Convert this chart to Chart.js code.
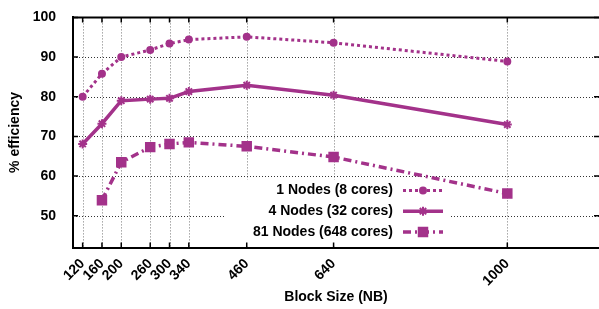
<!DOCTYPE html>
<html>
<head>
<meta charset="utf-8">
<script src="https://cdn.jsdelivr.net/npm/chart.js@4"></script>
<style>
  html, body { margin: 0; padding: 0; background: #fff; }
</style>
</head>
<body>
<canvas id="effChart" width="599" height="309"></canvas>
<script>
// ---------------- DATA ----------------
const blockSizes = [120, 160, 200, 260, 300, 340, 460, 640, 1000];
const oneNode = [80.0, 85.8, 90.0, 91.8, 93.4, 94.4, 95.1, 93.6, 88.9];
const fourNodes = [68.1, 73.2, 79.0, 79.4, 79.6, 81.3, 82.9, 80.4, 73.0];
const eightyOneNodes = [null, 53.9, 63.5, 67.3, 68.1, 68.5, 67.5, 64.8, 55.6];
const yTicks = [50, 60, 70, 80, 90, 100];
const seriesNames = ['1 Nodes (8 cores)', '4 Nodes (32 cores)', '81 Nodes (648 cores)'];

const purple = '#a3328a';
const font = 'Liberation Sans, Arial, Helvetica, sans-serif';

// pair each block size with its value, leaving out the missing ones
function toPoints(values) {
    return blockSizes
        .map((b, i) => ({ x: b, y: values[i] }))
        .filter(p => p.y !== null);
}

// styles for the three lines, also reused by the key
const styles = [
    { dash: [3, 3], width: 3, pointStyle: 'circle', radius: 3 },
    { dash: [], width: 3.5, pointStyle: 'star', radius: 4.5 },
    { dash: [8, 4, 2, 4], width: 3.5, pointStyle: 'rect', radius: 6 }
];

// gnuplot style: dotted grid, inward ticks, top border and the key box
const framePlugin = {
    id: 'frame',
    beforeDatasetsDraw(chart) {
        const { ctx, chartArea: a, scales } = chart;
        ctx.save();
        ctx.lineWidth = 1;
        ctx.setLineDash([1, 2]);
        ctx.strokeStyle = '#777';
        ctx.beginPath();
        blockSizes.forEach(b => {
            const x = Math.round(scales.x.getPixelForValue(b)) + 0.5;
            ctx.moveTo(x, a.top);
            ctx.lineTo(x, a.bottom);
        });
        ctx.stroke();
        ctx.strokeStyle = '#333';
        ctx.beginPath();
        yTicks.forEach(v => {
            const y = Math.round(scales.y.getPixelForValue(v)) + 0.5;
            ctx.moveTo(a.left, y);
            ctx.lineTo(a.right, y);
        });
        ctx.stroke();
        ctx.setLineDash([]);
        // white box behind the key hides the grid
        ctx.fillStyle = '#fff';
        ctx.fillRect(a.right - 374, a.bottom - 68, 226, 67);
        ctx.restore();
    },
    afterDatasetsDraw(chart) {
        const { ctx, chartArea: a, scales } = chart;
        ctx.save();
        ctx.strokeStyle = '#000';
        ctx.lineWidth = 2;
        // top border
        ctx.beginPath();
        ctx.moveTo(a.left - 1, a.top);
        ctx.lineTo(a.right, a.top);
        ctx.stroke();
        // inward ticks
        ctx.lineWidth = 1.5;
        ctx.beginPath();
        blockSizes.forEach(b => {
            const x = scales.x.getPixelForValue(b);
            ctx.moveTo(x, a.bottom); ctx.lineTo(x, a.bottom - 5);
            ctx.moveTo(x, a.top); ctx.lineTo(x, a.top + 5);
        });
        yTicks.forEach(v => {
            const y = scales.y.getPixelForValue(v);
            ctx.moveTo(a.left, y); ctx.lineTo(a.left + 5, y);
            ctx.moveTo(a.right, y); ctx.lineTo(a.right - 5, y);
        });
        ctx.stroke();

        // key
        const textRight = a.right - 206;
        const sampleL = a.right - 196;
        const sampleR = a.right - 156;
        ctx.font = 'bold 14px ' + font;
        ctx.textAlign = 'right';
        ctx.textBaseline = 'middle';
        seriesNames.forEach((name, i) => {
            const y = a.bottom - 57 + i * 20.7;
            ctx.fillStyle = '#000';
            ctx.fillText(name, textRight, y);
            const s = styles[i];
            ctx.strokeStyle = purple;
            ctx.lineWidth = s.width;
            ctx.setLineDash(s.dash);
            ctx.beginPath();
            ctx.moveTo(sampleL, y);
            ctx.lineTo(sampleR, y);
            ctx.stroke();
            ctx.setLineDash([]);
            ctx.fillStyle = purple;
            ctx.lineWidth = 2;
            Chart.helpers.drawPoint(ctx, {
                pointStyle: s.pointStyle, radius: s.radius, rotation: 0, borderWidth: 2
            }, (sampleL + sampleR) / 2, y);
        });
        ctx.restore();
    }
};

const ctx = document.getElementById('effChart');

new Chart(ctx, {
    type: 'line',
    data: {
        datasets: [oneNode, fourNodes, eightyOneNodes].map((vals, i) => ({
            label: seriesNames[i],
            data: toPoints(vals),
            borderColor: purple,
            backgroundColor: purple,
            borderWidth: styles[i].width,
            borderDash: styles[i].dash,
            pointStyle: styles[i].pointStyle,
            pointRadius: styles[i].radius,
            pointBorderWidth: 2,
            pointBackgroundColor: purple,
            pointBorderColor: purple,
            tension: 0,
            fill: false
        }))
    },
    options: {
        responsive: false,
        animation: false,
        // chart.js adds about 3.4px above the plot on its own
        layout: { autoPadding: false, padding: { top: 10.3, right: 0, bottom: 0, left: 0 } },
        plugins: {
            legend: { display: false },
            tooltip: { enabled: false }
        },
        scales: {
            x: {
                type: 'linear',
                min: 100,
                max: 1190,
                afterBuildTicks: axis => {
                    axis.ticks = blockSizes.map(v => ({ value: v }));
                },
                afterFit: axis => {
                    axis.height = 61.5;
                    axis.paddingLeft = 0;
                    axis.paddingRight = 0;
                },
                grid: { display: false },
                border: { display: true, color: '#000', width: 2 },
                ticks: {
                    autoSkip: false,
                    minRotation: 45,
                    maxRotation: 45,
                    padding: 0,
                    color: '#000',
                    callback: v => String(v),
                    font: { family: font, size: 14, weight: 'bold' }
                },
                title: {
                    display: true,
                    text: 'Block Size (NB)',
                    color: '#000',
                    padding: { top: 0, bottom: 3 },
                    font: { family: font, size: 14, weight: 'bold' }
                }
            },
            y: {
                min: 42,
                max: 100,
                afterBuildTicks: axis => {
                    axis.ticks = yTicks.map(v => ({ value: v }));
                },
                afterFit: axis => { axis.width = 73; },
                grid: { display: false },
                border: { display: true, color: '#000', width: 2 },
                ticks: {
                    padding: 9,
                    color: '#000',
                    font: { family: font, size: 14, weight: 'bold' }
                },
                title: {
                    display: true,
                    text: '% efficiency',
                    color: '#000',
                    padding: { top: 7, bottom: 0 },
                    font: { family: font, size: 14, weight: 'bold' }
                }
            }
        }
    },
    plugins: [framePlugin]
});
</script>
</body>
</html>
